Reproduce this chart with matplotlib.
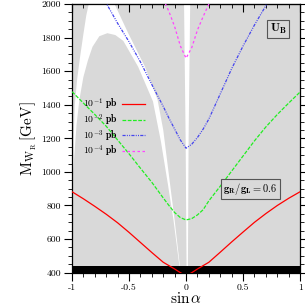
import numpy as np
import matplotlib
matplotlib.use("Agg")
import matplotlib.pyplot as plt
from matplotlib.ticker import MultipleLocator

plt.rcParams['mathtext.fontset'] = 'cm'
plt.rcParams['font.family'] = 'cmr10'
plt.rcParams['axes.formatter.use_mathtext'] = True

# cross-section contours, M_WR [GeV] vs sin(alpha)
sin_a = [-1, -0.9, -0.8, -0.7, -0.6, -0.5, -0.4, -0.3, -0.2, -0.15, -0.1, -0.05, 0,
         0.05, 0.1, 0.15, 0.2, 0.3, 0.4, 0.5, 0.6, 0.7, 0.8, 0.9, 1]
m_1e1 = [882, 840, 795, 748, 697, 640, 580, 520, 462, 442, 422, 400, 382,
         400, 422, 442, 462, 522, 583, 642, 700, 752, 800, 843, 882]
m_1e2 = [1478, 1410, 1342, 1272, 1190, 1108, 1022, 938, 845, 800, 758, 728, 714,
         722, 744, 775, 828, 915, 1005, 1095, 1185, 1268, 1342, 1410, 1476]

sin_a_3 = [-0.8, -0.7, -0.6, -0.5, -0.4, -0.3, -0.2, -0.15, -0.1, -0.05, 0,
           0.05, 0.1, 0.15, 0.2, 0.3, 0.4, 0.5, 0.6, 0.7, 0.8]
m_1e3 = [2120, 2005, 1885, 1775, 1655, 1520, 1390, 1320, 1255, 1190, 1141,
         1165, 1205, 1255, 1315, 1465, 1615, 1750, 1875, 1990, 2100]

sin_a_4 = [-0.3, -0.2, -0.15, -0.1, -0.05, 0, 0.05, 0.1, 0.15, 0.2, 0.3]
m_1e4 = [2150, 2030, 1955, 1865, 1750, 1677, 1740, 1845, 1925, 2000, 2120]

labels = [r'$\mathbf{10^{-1}\ pb}$', r'$\mathbf{10^{-2}\ pb}$',
          r'$\mathbf{10^{-3}\ pb}$', r'$\mathbf{10^{-4}\ pb}$']

# allowed (white) arch region
arch_out_x = [-0.99, -0.985, -0.975, -0.955, -0.93, -0.90, -0.875, -0.85, -0.76, -0.68,
              -0.62, -0.51, -0.36, -0.25, -0.20, -0.15, -0.10, -0.06, -0.052]
arch_out_m = [1000, 1200, 1400, 1550, 1680, 1820, 1930, 2010, 2100, 2060,
              1990, 1830, 1626, 1430, 1250, 980, 713, 475, 430]
arch_in_x = [-0.056, -0.065, -0.11, -0.16, -0.22, -0.29, -0.42, -0.55, -0.62, -0.69,
             -0.76, -0.82, -0.86, -0.90, -0.935, -0.96, -0.978, -0.99]
arch_in_m = [430, 475, 713, 930, 1180, 1420, 1626, 1780, 1815, 1826,
             1808, 1745, 1665, 1565, 1430, 1280, 1110, 1000]

# thin allowed strip around sin(alpha)=0
strip_m = [430, 1200, 2010]
strip_left = [0.0, -0.008, -0.022]
strip_right = [0.012, 0.018, 0.032]

excluded_low = (400, 440)

fig = plt.figure(figsize=(3.05, 3.05), dpi=100)
ax = fig.add_axes([0.236, 0.106, 0.748, 0.881])
ax.set_facecolor('#d9d9d9')

ax.fill(arch_out_x + arch_in_x, arch_out_m + arch_in_m, color='white', lw=0, zorder=1)
ax.fill_betweenx(strip_m, strip_left, strip_right, color='white', lw=0, zorder=1)
ax.axhspan(*excluded_low, color='black', lw=0, zorder=2)

ax.plot(sin_a, m_1e1, color='red', lw=0.9, ls='-', label=labels[0], zorder=3)
ax.plot(sin_a, m_1e2, color='#22ee22', lw=0.9, ls=(0, (3, 1.2)), label=labels[1], zorder=3)
ax.plot(sin_a_3, m_1e3, color='#4444ee', lw=0.9, ls=(0, (2.5, 1, 0.8, 1, 0.8, 1)),
        label=labels[2], zorder=3)
ax.plot(sin_a_4, m_1e4, color='#ff44ff', lw=0.9, ls=(0, (2, 2)), label=labels[3], zorder=3)

ax.set_xlim(-1, 1)
ax.set_ylim(400, 2000)
ax.xaxis.set_minor_locator(MultipleLocator(0.1))
ax.yaxis.set_minor_locator(MultipleLocator(50))
ax.set_xticks([-1, -0.5, 0, 0.5, 1])
ax.set_xticklabels(['-1', '-0.5', '0', '0.5', '1'], fontsize=7)
ax.set_yticks(range(400, 2001, 200))
ax.set_yticklabels([str(v) for v in range(400, 2001, 200)], fontsize=7)
ax.tick_params(axis='both', which='major', direction='out', length=6, width=0.8,
               left=True, right=True, bottom=True, top=False)
ax.tick_params(axis='both', which='minor', direction='out', length=3, width=0.6,
               left=True, right=True, bottom=True, top=False)
ax.tick_params(axis='x', pad=2)
ax.tick_params(axis='y', pad=2)

top = ax.secondary_xaxis('top')
top.xaxis.set_major_locator(MultipleLocator(0.5))
top.xaxis.set_minor_locator(MultipleLocator(0.1))
top.tick_params(which='major', direction='in', length=6, width=0.8, labeltop=False)
top.tick_params(which='minor', direction='in', length=3, width=0.6)

for s in ax.spines.values():
    s.set_linewidth(0.9)

ax.set_xlabel(r'$\sin\alpha$', fontsize=11, labelpad=-1)
ax.set_ylabel(r'$\mathrm{M_{W_R}\,[GeV]}$', fontsize=11, labelpad=2)

leg = ax.legend(loc='upper left', bbox_to_anchor=(0.02, 0.68), frameon=False,
                markerfirst=False, fontsize=7, handlelength=2.4, handletextpad=0.4,
                labelspacing=0.0, borderpad=0.2)

box = dict(boxstyle='square,pad=0.2', fc='#d9d9d9', ec='#555555', lw=0.8)
ax.text(0.904, 0.907, r'$\mathbf{U_B}$', transform=ax.transAxes, fontsize=8.5,
        ha='center', va='center', bbox=box, zorder=5)
ax.text(0.783, 0.310, r'$\mathbf{g_R/g_L = 0.6}$', transform=ax.transAxes, fontsize=7.5,
        ha='center', va='center', bbox=box, zorder=5)

fig.savefig('out.png', dpi=100)
